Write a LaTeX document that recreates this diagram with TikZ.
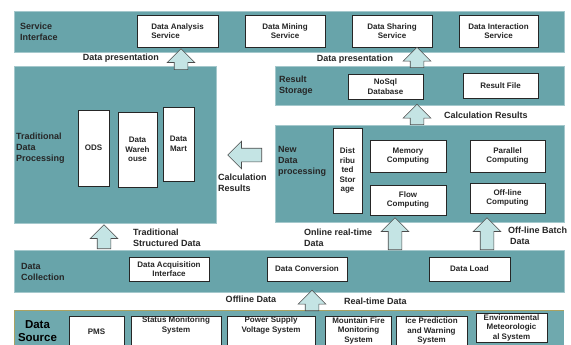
\documentclass[tikz,border=0pt]{standalone}
\usepackage{fontspec}
\setmainfont{Liberation Sans}
\usetikzlibrary{positioning,shapes.arrows}

\definecolor{bandteal}{RGB}{104,164,170}
\definecolor{arrowfill}{RGB}{196,228,228}
\definecolor{srcedge}{RGB}{170,162,98}

\tikzset{
  band/.style={fill=bandteal, draw=bandteal!60!white, line width=0.7pt},
  box/.style={draw=black!85, fill=white, line width=0.8pt, align=center, inner sep=0pt,
    font=\fontsize{8}{9.5}\selectfont\bfseries, text=black!85},
  lbl/.style={align=left, inner sep=0pt, font=\fontsize{9}{11}\selectfont\bfseries, text=black!85},
  fatarrow/.style={single arrow, draw=black!70, fill=arrowfill, line width=0.6pt,
    minimum height=21pt, single arrow head extend=7pt, inner sep=6.5pt},
}

\begin{document}
\begin{tikzpicture}[x=1pt, y=-1pt]
    \useasboundingbox (0,0) rectangle (571,345);
    \clip (0,0) rectangle (571,345);
    \fill[white] (0,0) rectangle (571,345);

    % Bands and panels
    \draw[band] (14,11) rectangle (564,52);
    \draw[band] (14,66) rectangle (216,223);
    \draw[band] (275,66) rectangle (564,105);
    \draw[band] (275,125) rectangle (564,222);
    \draw[band] (14,250) rectangle (564,292);
    \fill[bandteal!95!white] (14,310) rectangle (564,350);
    \draw[srcedge, line width=1pt] (14,350) -- (14,310) -- (564,310);

    % Service interface
    \node[lbl, anchor=west] (si) at (20,32) {Service\\Interface};
    \node[box, align=left, minimum width=81pt, minimum height=32pt] (das) at (177.5,31) {Data Analysis\\Service};
    \node[box, minimum width=80pt, minimum height=32pt] (dms) at (285,31) {Data Mining\\Service};
    \node[box, minimum width=80pt, minimum height=32pt] (dss) at (392,31) {Data Sharing\\Service};
    \node[box, minimum width=79pt, minimum height=32pt] (dis) at (498.5,31) {Data Interaction\\Service};

    % Traditional data processing
    \node[lbl, anchor=west] (tdp) at (16,148) {Traditional\\Data\\Processing};
    \node[box, minimum width=31pt, minimum height=76pt] (ods) at (93.5,148) {ODS};
    \node[box, minimum width=39pt, minimum height=75pt] (dw) at (137.5,149.5) {Data\\Wareh\\ouse};
    \node[box, minimum width=31pt, minimum height=74pt] (dm) at (178.5,144) {Data\\Mart};

    % Result storage
    \node[lbl, anchor=west] (rs) at (279,86) {Result\\Storage};
    \node[box, minimum width=75pt, minimum height=25pt] (nosql) at (385.5,86.5) {NoSql\\Database};
    \node[box, minimum width=75pt, minimum height=25pt] (rfile) at (500.5,85.5) {Result File};

    % New data processing
    \node[lbl, anchor=west] (ndp) at (278,161) {New\\Data\\processing};
    \node[box, minimum width=29pt, minimum height=85pt] (dst) at (347.5,170.5) {Dist\\ribu\\ted\\Stor\\age};
    \node[box, minimum width=76pt, minimum height=32pt] (mem) at (408,156) {Memory\\Computing};
    \node[box, minimum width=75pt, minimum height=32pt] (par) at (507.5,156) {Parallel\\Computing};
    \node[box, minimum width=76pt, minimum height=30pt] (flow) at (408,200) {Flow\\Computing};
    \node[box, minimum width=75pt, minimum height=30pt] (offc) at (507.5,198) {Off-line\\Computing};

    % Data collection
    \node[lbl, anchor=west] (dcol) at (21,271.5) {Data\\Collection};
    \node[box, minimum width=80pt, minimum height=24pt] (dai) at (169,269) {Data Acquisition\\Interface};
    \node[box, minimum width=80pt, minimum height=24pt] (dconv) at (307,269) {Data Conversion};
    \node[box, minimum width=81pt, minimum height=24pt] (dload) at (469.5,269) {Data Load};

    % Data source
    \node[lbl, align=center, font=\fontsize{11.5}{13}\selectfont\bfseries, text=black] (dsrc) at (37.5,331.5) {Data\\Source};
    \node[box, anchor=north, minimum width=55pt, minimum height=30pt] (pms) at (96.5,316) {PMS};
    \node[box, anchor=north, minimum width=90pt, minimum height=30pt] (sms) at (176,316) {Status Monitoring\\System\\[4pt]};
    \node[box, anchor=north, minimum width=88pt, minimum height=30pt] (psv) at (271,316) {Power Supply\\Voltage System\\[4pt]};
    \node[box, anchor=north, minimum width=66pt, minimum height=29pt] (mfm) at (358.5,316) {Mountain Fire\\Monitoring\\System};
    \node[box, anchor=north, minimum width=71pt, minimum height=30pt] (ipw) at (431.5,316) {Ice Prediction\\and Warning\\System};
    \node[box, anchor=north, minimum width=71pt, minimum height=29pt] (ems) at (511.5,313) {Environmental\\Meteorologic\\al System};

    % Fat arrows between the layers
    \node[fatarrow, shape border rotate=90, anchor=tail] (a1) at (181,70) {};
    \node[fatarrow, shape border rotate=90, anchor=tail, minimum height=20pt] (a2) at (417,68) {};
    \node[fatarrow, shape border rotate=90, anchor=tail, minimum height=19pt] (a3) at (417,125) {};
    \node[fatarrow, shape border rotate=180, anchor=tail, minimum height=34pt] (a4) at (262,155) {};
    \node[fatarrow, shape border rotate=90, anchor=tail, minimum height=24pt] (a5) at (104,249) {};
    \node[fatarrow, shape border rotate=90, anchor=tail, minimum height=32pt] (a6) at (395,250) {};
    \node[fatarrow, shape border rotate=90, anchor=tail, minimum height=32pt] (a7) at (487,250) {};
    \node[fatarrow, shape border rotate=90, anchor=tail, minimum height=20pt] (a8) at (312,311) {};

    % Labels
    \node[lbl] (dp1) at (121,58) {Data presentation};
    \node[lbl] (dp2) at (355,59) {Data presentation};
    \node[lbl, anchor=west] (cr1) at (444,115) {Calculation Results};
    \node[lbl, anchor=north west] (cr2) at (218,174) {Calculation\\Results};
    \node[lbl, anchor=west] (tsd) at (133,238) {Traditional\\Structured Data};
    \node[lbl, anchor=west] (ort) at (304,238) {Online real-time\\Data};
    \node[lbl, anchor=west] (obd) at (508,236) {Off-line Batch\\\hspace*{2pt}Data};
    \node[lbl] (ofd) at (251,299) {Offline Data};
    \node[lbl, anchor=west] (rtd) at (344,301) {Real-time Data};

\end{tikzpicture}
\end{document}
